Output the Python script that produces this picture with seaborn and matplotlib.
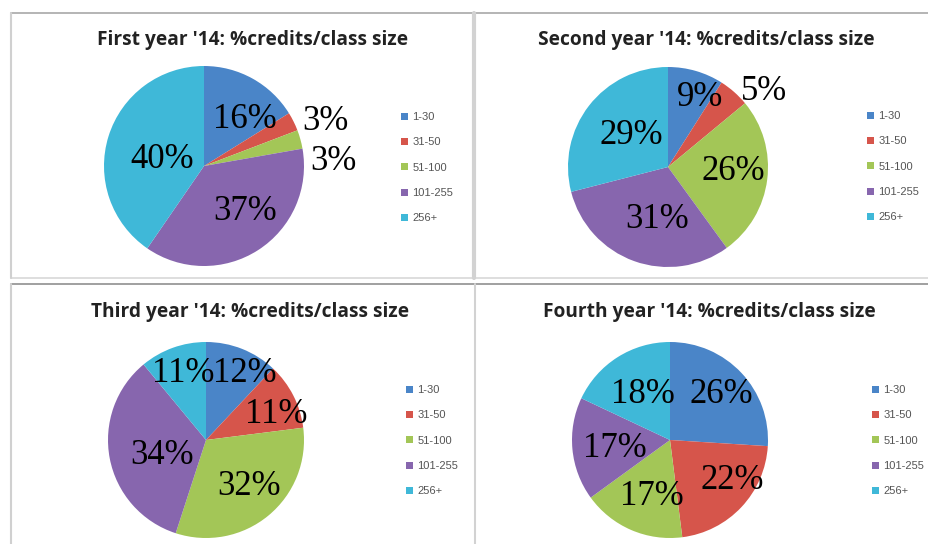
import matplotlib
matplotlib.use("Agg")
import matplotlib.pyplot as plt
import seaborn as sns
from matplotlib.lines import Line2D

sns.set_theme(style="white")

categories = ["1-30", "31-50", "51-100", "101-255", "256+"]
titles = ["First year '14: %credits/class size",
          "Second year '14: %credits/class size",
          "Third year '14: %credits/class size",
          "Fourth year '14: %credits/class size"]
first_year = [16, 3, 3, 37, 40]
second_year = [9, 5, 26, 31, 29]
third_year = [12, 11, 32, 34, 11]
fourth_year = [26, 22, 17, 17, 18]

colors = sns.color_palette(["#4a85c8", "#d6554b", "#a3c657", "#8766ae", "#3fb8d8"])

# label positions (in pie-radius units, relative to the pie centre)
label_pos = [
    [(0.41, 0.47), (1.21, 0.45), (1.29, 0.05), (0.41, -0.45), (-0.42, 0.07)],
    [(0.32, 0.70), (0.96, 0.75), (0.65, -0.05), (-0.11, -0.53), (-0.37, 0.32)],
    [(0.40, 0.68), (0.72, 0.26), (0.44, -0.47), (-0.45, -0.16), (-0.23, 0.68)],
    [(0.52, 0.46), (0.64, -0.41), (-0.18, -0.58), (-0.56, -0.09), (-0.28, 0.46)],
]

W, H = 929, 544
fig = plt.figure(figsize=(W / 100, H / 100), dpi=100)
fig.patch.set_facecolor("white")

# panel layout in pixels
pie_centers = [(204, 166), (668, 167), (206, 440), (670, 440)]
pie_radii = [100, 100, 98, 98]
title_pos = [(253, 40), (706, 40), (250, 312), (709, 312)]
legend_pos = [(401, 112), (867, 111), (406, 385), (872, 385)]

def fx(x):
    return x / W

def fy(y):
    return 1 - y / H

# panel frames
line_kw = dict(transform=fig.transFigure, figure=fig)
fig.lines.extend([
    Line2D([fx(11), 1], [fy(13), fy(13)], color="#a8a8a8", lw=1.2, **line_kw),
    Line2D([fx(11), 1], [fy(278), fy(278)], color="#d8d8d8", lw=1.2, **line_kw),
    Line2D([fx(11), 1], [fy(284), fy(284)], color="#a0a0a0", lw=1.4, **line_kw),
    Line2D([fx(11), fx(11)], [fy(13), fy(278)], color="#d0d0d0", lw=1.5, **line_kw),
    Line2D([fx(11), fx(11)], [fy(284), 0], color="#d0d0d0", lw=1.5, **line_kw),
    Line2D([fx(474), fx(474)], [fy(13), fy(278)], color="#d2d2d2", lw=3.0, **line_kw),
    Line2D([fx(475), fx(475)], [fy(284), 0], color="#d2d2d2", lw=1.5, **line_kw),
])

datasets = [first_year, second_year, third_year, fourth_year]
for i, vals in enumerate(datasets):
    cx, cy = pie_centers[i]
    r = pie_radii[i]
    ax = fig.add_axes([fx(cx - r), fy(cy + r), 2 * r / W, 2 * r / H])
    wedges, _ = ax.pie(vals, colors=colors, startangle=90, counterclock=False,
                       wedgeprops=dict(linewidth=0))
    ax.set_xlim(-1, 1)
    ax.set_ylim(-1, 1)
    ax.axis("off")
    for v, (lx, ly) in zip(vals, label_pos[i]):
        ax.text(lx, ly, f"{v}%", ha="center", va="center", fontsize=25,
                family="Liberation Serif", color="black", clip_on=False)
    tx, ty = title_pos[i]
    fig.text(fx(tx), fy(ty), titles[i], ha="center", va="center", fontsize=13.8,
             fontweight="bold", family="Open Sans", color="#222222")
    lx, ly = legend_pos[i]
    fig.legend(wedges, categories, loc="upper left",
               bbox_to_anchor=(fx(lx), fy(ly)), frameon=False,
               prop=dict(family="Liberation Sans", size=8),
               labelcolor="#555555", handlelength=0.6, handleheight=0.6,
               handletextpad=0.4, labelspacing=1.38, borderaxespad=0,
               borderpad=0)

fig.savefig("out.png", dpi=100, facecolor="white")
